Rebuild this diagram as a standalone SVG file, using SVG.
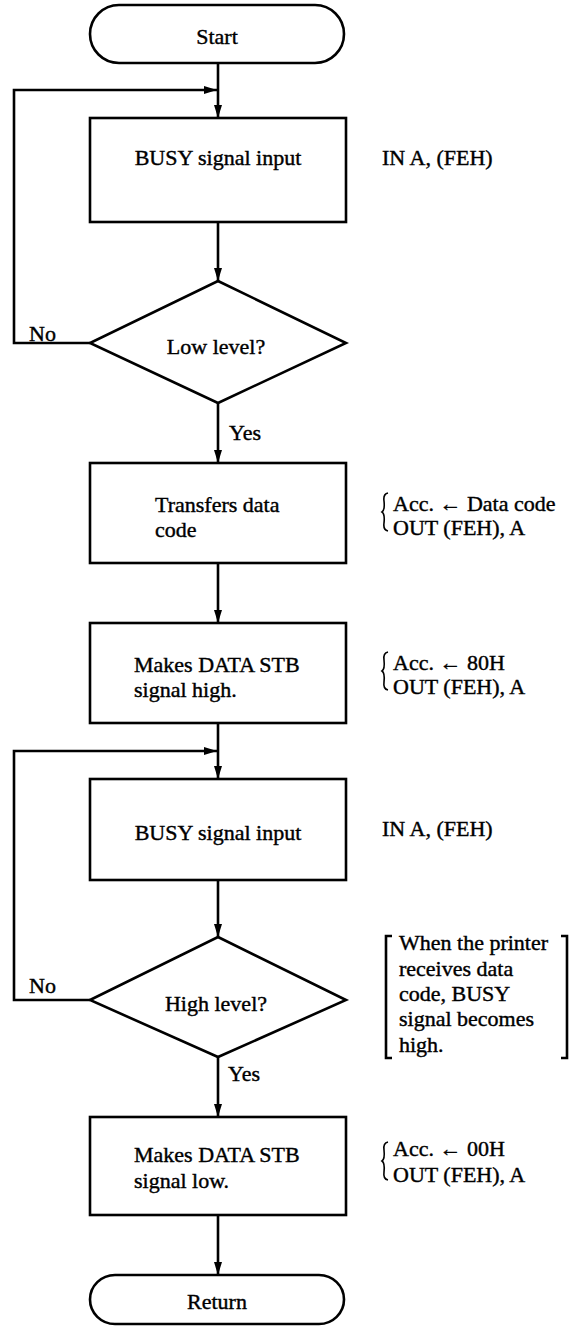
<svg xmlns="http://www.w3.org/2000/svg" width="575" height="1326" viewBox="0 0 575 1326">
<defs>
<marker id="ah" viewBox="0 0 13 8" refX="13" refY="4" markerWidth="13" markerHeight="8" markerUnits="userSpaceOnUse" orient="auto">
<path d="M0,0 L13,4 L0,8 Z" fill="#000"/>
</marker>
<path id="brace" d="M6,0 Q1,1 2,8 Q3,17 0,19 Q3,21 2,30 Q1,37 6,38" fill="none" stroke="#000" stroke-width="1.6"/>
</defs>
<style>
.s{fill:#fff;stroke:#000;stroke-width:2.6}
.t{font-family:"Liberation Serif","Times New Roman",serif;font-size:22px;fill:#000;stroke:#000;stroke-width:0.4}
.c{text-anchor:middle}
.e{fill:none;stroke:#000;stroke-width:2.6}
</style>
<rect width="575" height="1326" fill="#fff"/>
<g id="connectors">
<path class="e" d="M218,63 V118" marker-end="url(#ah)"/>
<path class="e" d="M90,343 H14 V90 H217" marker-end="url(#ah)"/>
<path class="e" d="M218,222 V281" marker-end="url(#ah)"/>
<path class="e" d="M218,403 V463" marker-end="url(#ah)"/>
<path class="e" d="M218,563 V623" marker-end="url(#ah)"/>
<path class="e" d="M218,723 V779" marker-end="url(#ah)"/>
<path class="e" d="M90,1000 H14 V751 H217" marker-end="url(#ah)"/>
<path class="e" d="M218,880 V937" marker-end="url(#ah)"/>
<path class="e" d="M218,1057 V1117" marker-end="url(#ah)"/>
<path class="e" d="M218,1215 V1275" marker-end="url(#ah)"/>
<text class="t" x="29" y="341">No</text>
<text class="t" x="229" y="440">Yes</text>
<text class="t" x="29" y="993">No</text>
<text class="t" x="228" y="1081">Yes</text>
</g>
<g id="start">
<rect class="s" x="90" y="5" width="254" height="58" rx="29"/>
<text class="t c" x="217" y="44">Start</text>
</g>
<g id="busy1">
<rect class="s" x="90" y="118" width="256" height="104"/>
<text class="t c" x="218" y="165">BUSY signal input</text>
<text class="t" x="382" y="165">IN A, (FEH)</text>
</g>
<g id="low">
<polygon class="s" points="218,281 346,343 218,403 90,343"/>
<text class="t c" x="216" y="354">Low level?</text>
</g>
<g id="transfer">
<rect class="s" x="90" y="463" width="256" height="100"/>
<text class="t" x="155" y="512">Transfers data</text>
<text class="t" x="155" y="537">code</text>
<use href="#brace" x="382" y="493"/>
<text class="t" x="393" y="511">Acc. ← Data code</text>
<text class="t" x="393" y="535">OUT (FEH), A</text>
</g>
<g id="stbhigh">
<rect class="s" x="90" y="623" width="256" height="100"/>
<text class="t" x="134" y="672">Makes DATA STB</text>
<text class="t" x="134" y="697">signal high.</text>
<use href="#brace" x="382" y="652"/>
<text class="t" x="393" y="670">Acc. ← 80H</text>
<text class="t" x="393" y="694">OUT (FEH), A</text>
</g>
<g id="busy2">
<rect class="s" x="90" y="779" width="256" height="101"/>
<text class="t c" x="218" y="840">BUSY signal input</text>
<text class="t" x="382" y="836">IN A, (FEH)</text>
</g>
<g id="high">
<polygon class="s" points="218,937 346,1000 218,1057 90,1000"/>
<text class="t c" x="216" y="1011">High level?</text>
</g>
<g id="note">
<path class="e" d="M392,936 H386 V1058 H392"/>
<path class="e" d="M561,936 H567 V1058 H561"/>
<text class="t" x="399" y="950">When the printer</text>
<text class="t" x="399" y="976">receives data</text>
<text class="t" x="399" y="1001">code, BUSY</text>
<text class="t" x="399" y="1026">signal becomes</text>
<text class="t" x="399" y="1052">high.</text>
</g>
<g id="stblow">
<rect class="s" x="90" y="1117" width="256" height="98"/>
<text class="t" x="134" y="1162">Makes DATA STB</text>
<text class="t" x="134" y="1188">signal low.</text>
<use href="#brace" x="382" y="1142"/>
<text class="t" x="393" y="1156">Acc. ← 00H</text>
<text class="t" x="393" y="1182">OUT (FEH), A</text>
</g>
<g id="return">
<rect class="s" x="90" y="1275" width="254" height="49" rx="25"/>
<text class="t c" x="217" y="1309">Return</text>
</g>
</svg>
